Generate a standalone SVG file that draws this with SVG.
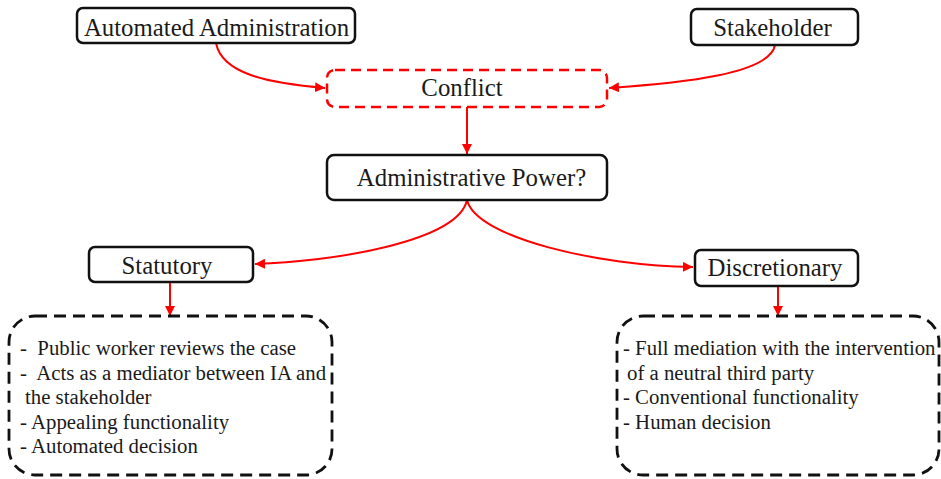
<svg xmlns="http://www.w3.org/2000/svg" width="941" height="479" viewBox="0 0 941 479">
<style>
.box{fill:#fff;stroke:#111;stroke-width:2.5}
.rbox{fill:#fff;stroke:#ff0000;stroke-width:2.5;stroke-dasharray:10 6}
.dbox{fill:none;stroke:#111;stroke-width:2.8;stroke-dasharray:12 7}
.lbl{font-family:'Liberation Serif','Times New Roman',Times,serif;font-size:24.8px;fill:#1a1a1a;text-anchor:middle}
.body{font-family:'Liberation Serif','Times New Roman',Times,serif;font-size:20.8px;fill:#1a1a1a;white-space:pre}
.con{fill:none;stroke:#ff0000;stroke-width:2}
</style>
<defs>
<marker id="ah" viewBox="0 0 10 10" refX="10" refY="5" markerWidth="5" markerHeight="5" orient="auto" markerUnits="strokeWidth">
<path d="M0,0 L10,5 L0,10 z" fill="#ff0000"/>
</marker>
</defs>
<g id="connectors">
<path class="con" d="M216,43 C222,74 268,83 325,88" marker-end="url(#ah)"/>
<path class="con" d="M775,45 C770,74 682,83 609,88" marker-end="url(#ah)"/>
<path class="con" d="M467,107 L467,154" marker-end="url(#ah)"/>
<path class="con" d="M467,200 C458,242 330,262 255,264" marker-end="url(#ah)"/>
<path class="con" d="M467,200 C476,238 600,266 693,267" marker-end="url(#ah)"/>
<path class="con" d="M170,282 L170,316" marker-end="url(#ah)"/>
<path class="con" d="M778,286 L778,316" marker-end="url(#ah)"/>
</g>
<g id="automated">
<rect class="box" x="77" y="8" width="278" height="35" rx="6"/>
<text class="lbl" x="216.5" y="36">Automated Administration</text>
</g>
<g id="stakeholder">
<rect class="box" x="691" y="9" width="167" height="36" rx="6"/>
<text class="lbl" x="772.5" y="36">Stakeholder</text>
</g>
<g id="conflict">
<rect class="rbox" x="327" y="70" width="280" height="37" rx="8"/>
<text class="lbl" x="462" y="96">Conflict</text>
</g>
<g id="power">
<rect class="box" x="327" y="155" width="280" height="45" rx="7"/>
<text class="lbl" x="471.5" y="186">Administrative Power?</text>
</g>
<g id="statutory">
<rect class="box" x="89" y="247" width="164" height="35" rx="6"/>
<text class="lbl" x="167" y="274">Statutory</text>
</g>
<g id="discretionary">
<rect class="box" x="695" y="250" width="163" height="36" rx="6"/>
<text class="lbl" x="775" y="276">Discretionary</text>
</g>
<g id="statutory-details">
<rect class="dbox" x="9" y="316" width="323" height="159" rx="26"/>
<text class="body" x="20" y="355">-  Public worker reviews the case</text>
<text class="body" x="20" y="380">-  Acts as a mediator between IA and</text>
<text class="body" x="25" y="404">the stakeholder</text>
<text class="body" x="20" y="429">- Appealing functionality</text>
<text class="body" x="20" y="453">- Automated decision</text>
</g>
<g id="discretionary-details">
<rect class="dbox" x="617" y="316" width="322" height="159" rx="26"/>
<text class="body" x="623" y="355">- Full mediation with the intervention</text>
<text class="body" x="627" y="380">of a neutral third party</text>
<text class="body" x="623" y="404">- Conventional functionality</text>
<text class="body" x="623" y="429">- Human decision</text>
</g>
</svg>
